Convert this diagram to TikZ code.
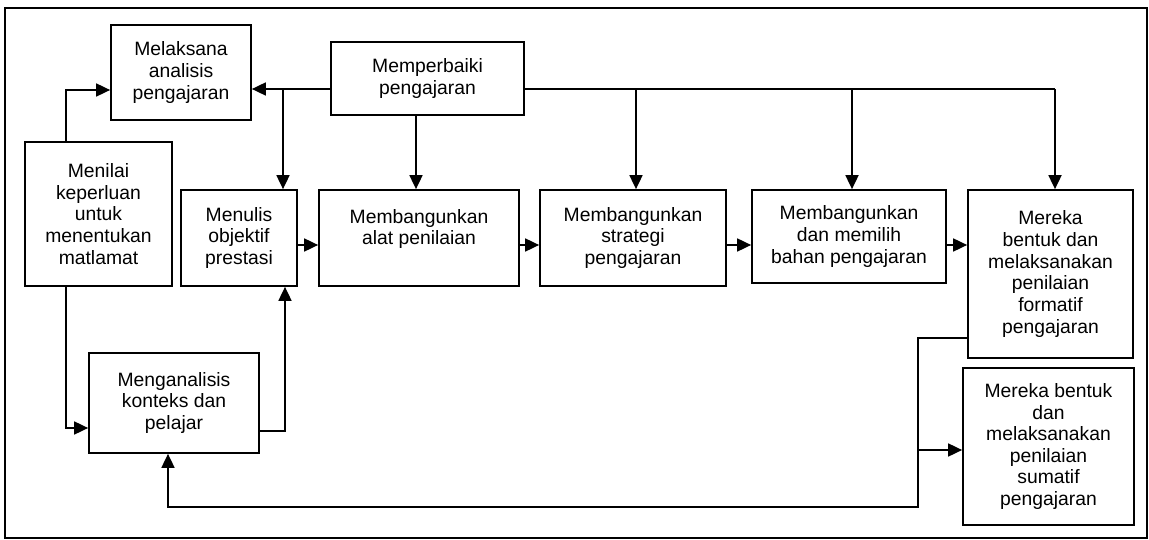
\documentclass[tikz,border=0pt]{standalone}
\usepackage{fontspec}
\setmainfont{Liberation Sans}
\usetikzlibrary{arrows.meta}

\begin{document}
\begin{tikzpicture}[x=0.02cm,y=-0.02cm,line width=1pt,
  blok/.style={draw,align=center,inner sep=2pt,font=\fontsize{11}{12.3}\selectfont},
  panah/.style={-{Triangle[length=2.8mm,width=2.6mm]}}]
  \useasboundingbox (0,0) rectangle (1149,540);
  \draw (5,8) rectangle (1147,538);

  \node[blok,minimum width=2.8cm,minimum height=1.9cm] (mel) at (181,72.5) {Melaksana\\analisis\\pengajaran};
  \node[blok,minimum width=3.86cm,minimum height=1.46cm] (baiki) at (427.5,78.5) {Memperbaiki\\pengajaran};
  \node[blok,minimum width=2.94cm,minimum height=2.88cm] (nilai) at (98.5,214) {Menilai\\keperluan\\untuk\\menentukan\\matlamat};
  \node[blok,minimum width=2.32cm,minimum height=1.92cm] (tulis) at (239,238) {Menulis\\objektif\\prestasi};
  \node[blok,minimum width=4cm,minimum height=1.92cm] (alat) at (419,238) {Membangunkan\\alat penilaian\\~};
  \node[blok,minimum width=3.72cm,minimum height=1.92cm] (strategi) at (633,238) {Membangunkan\\strategi\\pengajaran};
  \node[blok,minimum width=3.88cm,minimum height=1.86cm] (bahan) at (849,236.5) {Membangunkan\\dan memilih\\bahan pengajaran};
  \node[blok,minimum width=3.3cm,minimum height=3.36cm] (formatif) at (1050.5,274) {Mereka\\bentuk dan\\melaksanakan\\penilaian\\formatif\\pengajaran};
  \node[blok,minimum width=3.42cm,minimum height=3.14cm] (sumatif) at (1048.5,446.5) {Mereka bentuk\\dan\\melaksanakan\\penilaian\\sumatif\\pengajaran};
  \node[blok,minimum width=3.4cm,minimum height=2cm] (konteks) at (174,403) {Menganalisis\\konteks dan\\pelajar};

  % dari memperbaiki
  \coordinate (cab) at (283,89);
  \draw[panah] (baiki.west |- cab) -- (mel.east |- cab);
  \draw[panah] (cab) -- (tulis.north -| cab);
  \draw[panah] (baiki.south -| 416,0) -- (alat.north -| 416,0);
  \coordinate (hujung) at (1055,89);
  \draw (baiki.east |- hujung) -- (hujung);
  \foreach \x/\n in {636/strategi,852/bahan,1055/formatif}
    \draw[panah] (\x,89) -- (\n.north -| \x,0);

  % sebelah kiri
  \draw[panah] (nilai.north -| 66,0) |- (mel.west |- 0,90);
  \draw[panah] (nilai.south -| 66,0) |- (konteks.west |- 0,428);
  \draw[panah] (konteks.east |- 0,431) -| (tulis.south -| 285,0);

  % aliran utama
  \foreach \a/\b in {tulis/alat,alat/strategi,strategi/bahan,bahan/formatif}
    \draw[panah] (\a.east |- 0,245) -- (\b.west |- 0,245);

  % gelung balik
  \coordinate (sudut) at (918,507);
  \draw[panah] (formatif.west |- 0,338) -| (sudut) -| (konteks.south -| 168,0);
  \draw[panah] (918,450) -- (sumatif.west |- 0,450);
\end{tikzpicture}
\end{document}
